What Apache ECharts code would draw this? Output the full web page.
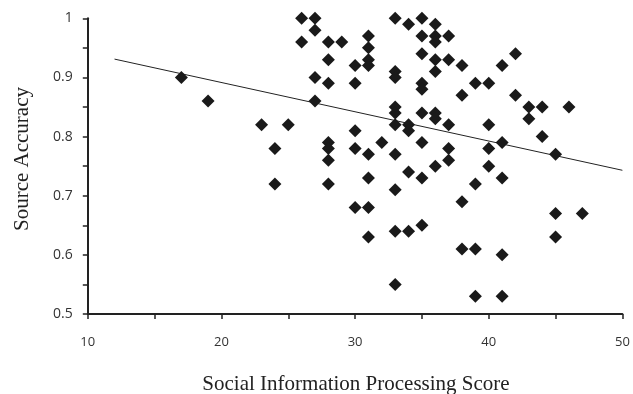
<!DOCTYPE html>
<html>
<head>
<meta charset="utf-8">
<script src="https://cdn.jsdelivr.net/npm/echarts@6/dist/echarts.min.js"></script>
<style>html,body{margin:0;padding:0;background:#fff}#c{width:633px;height:394px}</style>
</head>
<body>
<div id="c"></div>
<script>
var xTitle = 'Social Information Processing Score';
var yTitle = 'Source Accuracy';
var xTicks = [10, 20, 30, 40, 50];
var yTicks = [0.5, 0.6, 0.7, 0.8, 0.9, 1];
var scoreX = [17,19,23,24,24,25,26,26,27,27,27,27,28,28,28,28,28,28,28,29,
  30,30,30,30,30,31,31,31,31,31,31,31,31,32,33,33,33,33,33,33,33,33,33,33,
  34,34,34,34,34,35,35,35,35,35,35,35,35,35,36,36,36,36,36,36,36,36,
  37,37,37,37,37,38,38,38,38,39,39,39,39,40,40,40,40,41,41,41,41,41,42,42,
  43,43,44,44,45,45,45,46,47];
var accuracyY = [0.90,0.86,0.82,0.78,0.72,0.82,1.00,0.96,1.00,0.98,0.90,0.86,0.96,0.93,0.89,0.79,0.78,0.76,0.72,0.96,
  0.92,0.89,0.81,0.78,0.68,0.97,0.95,0.93,0.92,0.77,0.73,0.68,0.63,0.79,1.00,0.91,0.90,0.85,0.84,0.82,0.77,0.71,0.64,0.55,
  0.99,0.82,0.81,0.74,0.64,1.00,0.97,0.94,0.89,0.88,0.84,0.79,0.73,0.65,0.99,0.97,0.96,0.93,0.91,0.84,0.83,0.75,
  0.97,0.93,0.82,0.78,0.76,0.92,0.87,0.69,0.61,0.89,0.72,0.61,0.53,0.89,0.82,0.78,0.75,0.92,0.79,0.73,0.60,0.53,0.94,0.87,
  0.85,0.83,0.85,0.80,0.77,0.67,0.63,0.85,0.67];
var trendX = [12, 50];
var trendY = [0.931, 0.743];

var points = scoreX.map(function(x, i){ return [x, accuracyY[i]]; });
var trend = trendX.map(function(x, i){ return [x, trendY[i]]; });

var chart = echarts.init(document.getElementById('c'), null, {renderer:'canvas'});
var axisCol = '#222';
chart.setOption({
  animation: false,
  grid: {left: 87.8, right: 10.6, top: 18.3, bottom: 80, containLabel: false},
  xAxis: {
    type: 'value', min: 10, max: 50, interval: 5,
    axisLine: {show: true, lineStyle: {color: axisCol, width: 2}},
    axisTick: {show: true, inside: false, length: 5, lineStyle: {color: axisCol, width: 1.5}},
    splitLine: {show: false},
    axisLabel: {
      margin: 22, fontFamily: 'Open Sans', fontSize: 13, color: '#333',
      formatter: function(v){ return xTicks.indexOf(v) >= 0 ? String(v) : ''; }
    }
  },
  yAxis: {
    type: 'value', min: 0.5, max: 1, interval: 0.05,
    axisLine: {show: true, lineStyle: {color: axisCol, width: 2}},
    axisTick: {show: true, inside: false, length: 5, lineStyle: {color: axisCol, width: 1.5}},
    splitLine: {show: false},
    axisLabel: {
      margin: 15, fontFamily: 'Open Sans', fontSize: 14, color: '#333',
      formatter: function(v){
        var r = Math.round(v * 100) / 100;
        for (var i = 0; i < yTicks.length; i++) { if (Math.abs(yTicks[i] - r) < 1e-6) return String(yTicks[i]); }
        return '';
      }
    }
  },
  series: [
    {
      type: 'line', data: trend, symbol: 'none', silent: true,
      lineStyle: {color: '#222', width: 1}, z: 1
    },
    {
      type: 'scatter', data: points, symbol: 'diamond', symbolSize: 13,
      itemStyle: {color: '#1a1a1a', opacity: 1}, z: 2
    }
  ],
  graphic: [
    {
      type: 'text', x: 356, y: 384,
      style: {text: xTitle, font: '21px "Liberation Serif"', fill: '#222', textAlign: 'center', textVerticalAlign: 'middle'}
    },
    {
      type: 'text', x: 22, y: 159, rotation: Math.PI / 2,
      style: {text: yTitle, font: '21px "Liberation Serif"', fill: '#222', textAlign: 'center', textVerticalAlign: 'middle'}
    }
  ]
});
</script>
</body>
</html>
